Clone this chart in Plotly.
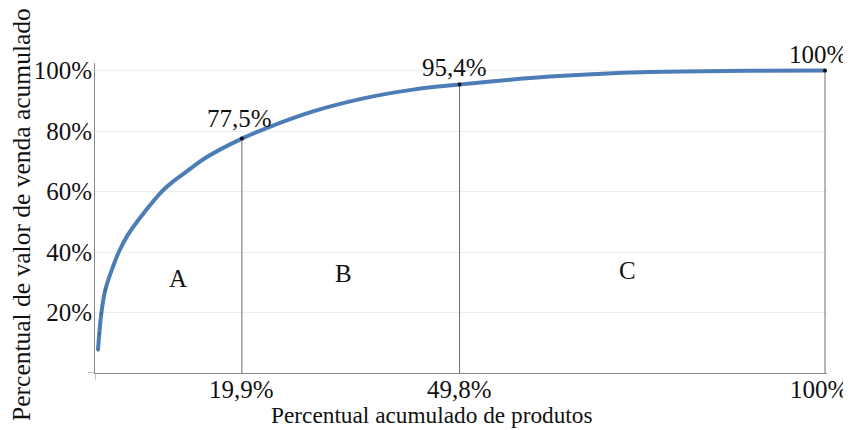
import plotly.graph_objects as go

# Curve (cumulative % of products vs cumulative % of sales value)
curve_x = [0.14, 0.32, 0.6, 1.15, 2.1, 3.0, 4.2, 6.3, 8.9, 10.5, 12.3, 15.1, 19.9,
           23.3, 29.7, 36.6, 43.4, 49.8, 62.2, 75.9, 89.7, 100.0]
curve_y = [7.6, 13.1, 19.7, 27.5, 34.5, 40.0, 45.5, 52.5, 60.0, 63.4, 66.6, 71.4, 77.5,
           81.0, 86.5, 90.8, 93.7, 95.4, 98.0, 99.5, 99.9, 100.0]

# Class cut points
cut_x = [19.9, 49.8, 100.0]
cut_y = [77.5, 95.4, 100.0]
cut_labels = ["77,5%", "95,4%", "100%"]
x_tick_text = ["19,9%", "49,8%", "100%"]

y_ticks = [20, 40, 60, 80, 100]
y_tick_text = ["20%", "40%", "60%", "80%", "100%"]

class_names = ["A", "B", "C"]
class_x = [11.1, 33.9, 72.8]
class_y = [31.4, 33.0, 34.0]

FONT = "Liberation Serif"
FS = 25
TXT = "#111111"
fig = go.Figure()

# vertical cut lines
for cx, cy in zip(cut_x, cut_y):
    fig.add_trace(go.Scatter(x=[cx, cx], y=[0, cy], mode="lines",
                             line=dict(color="#707070", width=1), hoverinfo="skip",
                             showlegend=False))

fig.add_trace(go.Scatter(x=curve_x, y=curve_y, mode="lines",
                         line=dict(color="#4d7db6", width=4, shape="spline", smoothing=1.1),
                         showlegend=False))
fig.add_trace(go.Scatter(x=curve_x[:4], y=curve_y[:4], mode="markers",
                         marker=dict(color="#3f6a9c", size=3), showlegend=False))

fig.add_trace(go.Scatter(x=cut_x, y=cut_y, mode="markers",
                         marker=dict(color="#111111", size=4), showlegend=False))

label_xshift = [-2, -5, -7]
label_yshift = [5, 1, 1]
for cx, cy, t, dx, dy in zip(cut_x, cut_y, cut_labels, label_xshift, label_yshift):
    fig.add_annotation(x=cx, y=cy, text=t, showarrow=False, yanchor="bottom",
                       xshift=dx, yshift=dy,
                       font=dict(family=FONT, size=FS, color=TXT))

for n, cx, cy in zip(class_names, class_x, class_y):
    fig.add_annotation(x=cx, y=cy, text=n, showarrow=False,
                       font=dict(family=FONT, size=FS, color=TXT))

# x tick labels (placed on the x scale)
tick_xshift = [0, 0, -6]
for cx, t, dx in zip(cut_x, x_tick_text, tick_xshift):
    fig.add_annotation(x=cx, xref="x", y=0, yref="paper", yanchor="top", yshift=-1,
                       xshift=dx, text=t, showarrow=False,
                       font=dict(family=FONT, size=FS, color=TXT))

# axis titles
fig.add_annotation(x=0.46, xref="paper", y=-0.137, yref="paper", yanchor="middle",
                   text="Percentual acumulado de produtos", showarrow=False,
                   font=dict(family=FONT, size=23.3, color=TXT))
fig.add_annotation(x=-0.0997, xref="paper", y=0.51, yref="paper", xanchor="center",
                   yanchor="middle", textangle=-90,
                   text="Percentual de valor de venda acumulado", showarrow=False,
                   font=dict(family=FONT, size=25.5, color=TXT))

# small axis overhangs at the origin
fig.add_shape(type="line", xref="paper", yref="y", x0=-0.01, x1=0, y0=0, y1=0,
              line=dict(color="#8a8a8a", width=1))
fig.add_shape(type="line", xref="x", yref="paper", x0=-0.27, x1=-0.27, y0=-0.024, y1=0,
              line=dict(color="#8a8a8a", width=1))

# the page body adds an 8px offset, so the figure is 8px smaller and margins shifted
fig.update_layout(
    width=843, height=422,
    margin=dict(l=87, r=24, t=55, b=57, autoexpand=False),
    plot_bgcolor="white", paper_bgcolor="white",
    font=dict(family=FONT, size=FS, color=TXT),
    xaxis=dict(range=[-0.27, 100.27], tickvals=cut_x, showticklabels=False,
               showgrid=False, zeroline=False, showline=True, linecolor="#8a8a8a",
               linewidth=1, ticks="", automargin=False),
    yaxis=dict(range=[0, 102.5], tickvals=y_ticks, ticktext=y_tick_text,
               showgrid=True, gridcolor="#ededed", gridwidth=1, zeroline=False,
               showline=True, linecolor="#8a8a8a", linewidth=1, ticks="",
               ticklabelstandoff=-3, automargin=False,
               tickfont=dict(family=FONT, size=FS, color=TXT)),
)

fig.write_html("out.html")
